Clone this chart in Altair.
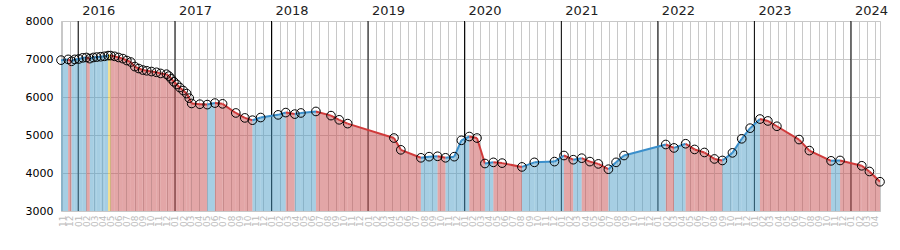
import altair as alt
import pandas as pd

dates = [
    "2015-10-28", "2015-11-24", "2015-12-07", "2015-12-19", "2016-01-03", "2016-01-18",
    "2016-02-01", "2016-02-14", "2016-02-27", "2016-03-11", "2016-03-26", "2016-04-09",
    "2016-04-23", "2016-05-03", "2016-05-18", "2016-06-02", "2016-06-18", "2016-07-03",
    "2016-07-18", "2016-08-02", "2016-08-17", "2016-09-01", "2016-09-16", "2016-10-04",
    "2016-10-23", "2016-11-08", "2016-11-30", "2016-12-09", "2016-12-18", "2016-12-28",
    "2017-01-08", "2017-01-19", "2017-02-01", "2017-02-14", "2017-02-24", "2017-03-05",
    "2017-04-05", "2017-05-03", "2017-06-01", "2017-06-30", "2017-08-19", "2017-09-22",
    "2017-10-21", "2017-11-21", "2018-01-26", "2018-02-24", "2018-03-30", "2018-04-22",
    "2018-06-18", "2018-08-14", "2018-09-14", "2018-10-16", "2019-04-09", "2019-05-05",
    "2019-07-20", "2019-08-20", "2019-09-21", "2019-10-21", "2019-11-23", "2019-12-20",
    "2020-01-19", "2020-02-17", "2020-03-18", "2020-04-19", "2020-05-22", "2020-08-05",
    "2020-09-21", "2020-12-06", "2021-01-11", "2021-02-15", "2021-03-19", "2021-04-19",
    "2021-05-21", "2021-06-28", "2021-07-27", "2021-08-26", "2022-01-31", "2022-03-03",
    "2022-04-16", "2022-05-20", "2022-06-26", "2022-08-03", "2022-09-02", "2022-10-10",
    "2022-11-14", "2022-12-16", "2023-01-22", "2023-02-21", "2023-03-27", "2023-06-19",
    "2023-07-28", "2023-10-18", "2023-11-21", "2024-02-11", "2024-03-11", "2024-04-20",
]
prices = [
    6970, 6990, 6940, 6990, 7000, 7030,
    7040, 7010, 7040, 7050, 7060, 7070,
    7090, 7090, 7070, 7040, 7010, 6960,
    6920, 6800, 6750, 6710, 6690, 6670,
    6650, 6620, 6600, 6550, 6480, 6400,
    6330, 6250, 6170, 6090, 5970, 5830,
    5810, 5800, 5840, 5820, 5580, 5450,
    5390, 5460, 5530, 5590, 5550, 5580,
    5620, 5510, 5400, 5300, 4920, 4610,
    4400, 4430, 4440, 4400, 4430, 4860,
    4960, 4920, 4250, 4280, 4260, 4160,
    4280, 4300, 4460, 4350, 4390, 4300,
    4240, 4100, 4280, 4460, 4750, 4660,
    4770, 4620, 4540, 4370, 4330, 4530,
    4900, 5180, 5420, 5370, 5230, 4880,
    4590, 4320, 4330, 4190, 4040, 3770,
]
years = [2016, 2017, 2018, 2019, 2020, 2021, 2022, 2023, 2024]
y_ticks = [3000, 4000, 5000, 6000, 7000, 8000]

pts = pd.DataFrame({"date": dates, "price": prices})

seg_rows = []
area_rows = []
for i in range(len(dates) - 1):
    d = prices[i + 1] - prices[i]
    kind = "up" if d > 0 else ("down" if d < 0 else "flat")
    seg_rows.append({"d0": dates[i], "d1": dates[i + 1], "p0": prices[i], "p1": prices[i + 1], "kind": kind})
    area_rows.append({"seg": i, "date": dates[i], "price": prices[i], "kind": kind})
    area_rows.append({"seg": i, "date": dates[i + 1], "price": prices[i + 1], "kind": kind})
segs = pd.DataFrame(seg_rows)
areas = pd.DataFrame(area_rows)
yr = pd.DataFrame({"date": [f"{y}-01-01" for y in years], "label": [str(y) for y in years]})

kinds = ["up", "down", "flat"]
area_scale = alt.Scale(domain=kinds, range=["#4d9dc7", "#c74d4f", "#e8c020"])
line_scale = alt.Scale(domain=kinds, range=["#3a8fcb", "#d03a3a", "#e8c020"])

xdom = alt.Scale(domain=["2015-10-28", "2024-04-20"])
yscale = alt.Scale(domain=[3000, 8000], zero=False, nice=False)

xaxis = alt.Axis(
    format="%m", tickCount={"interval": "month", "step": 1}, labelAngle=270,
    labelFontSize=9, labelColor="#bbbbbb", labelOverlap=False, labelFlush=False,
    grid=True, gridColor="#c8c8c8", ticks=False, domain=False, title=None,
    labelPadding=4, labelFont="DejaVu Sans",
)
yaxis = alt.Axis(
    values=y_ticks, format="d", grid=True, gridColor="#c8c8c8",
    ticks=False, domain=False, title=None, labelFontSize=11, labelColor="#000000",
    labelPadding=8, labelFont="DejaVu Sans", labelOverlap=False,
)

yearlines = alt.Chart(yr).mark_rule(color="#000000", strokeWidth=1).encode(
    x=alt.X("date:T", scale=xdom, axis=xaxis)
)
yeartext = alt.Chart(yr).mark_text(
    align="left", baseline="bottom", dx=4, fontSize=13, font="DejaVu Sans", color="#222222"
).encode(x=alt.X("date:T", scale=xdom, axis=xaxis), y=alt.value(-3), text="label:N")

area = alt.Chart(areas).mark_area(opacity=0.5, interpolate="linear", clip=True).encode(
    x=alt.X("date:T", scale=xdom, axis=xaxis),
    y=alt.Y("price:Q", scale=yscale, axis=yaxis, stack=None),
    y2=alt.datum(3000),
    color=alt.Color("kind:N", scale=area_scale, legend=None),
    detail="seg:N",
)
lines = alt.Chart(segs).mark_rule(strokeWidth=2, clip=True).encode(
    x=alt.X("d0:T", scale=xdom, axis=xaxis),
    x2="d1:T",
    y=alt.Y("p0:Q", scale=yscale, axis=yaxis),
    y2="p1:Q",
    color=alt.Color("kind:N", scale=line_scale, legend=None),
)
points = alt.Chart(pts).mark_point(
    shape="circle", filled=False, stroke="#000000", strokeWidth=1, size=75, opacity=1
).encode(
    x=alt.X("date:T", scale=xdom, axis=xaxis),
    y=alt.Y("price:Q", scale=yscale, axis=yaxis),
)

chart = alt.layer(yearlines, area, lines, points, yeartext).resolve_scale(
    color="independent"
).properties(
    width=819, height=190,
    autosize=alt.AutoSizeParams(type="none"),
    padding={"left": 61, "top": 21, "right": 20, "bottom": 39},
).configure_view(stroke="#c8c8c8")

chart.save("out.html", embed_options={"renderer": "svg", "actions": False})
